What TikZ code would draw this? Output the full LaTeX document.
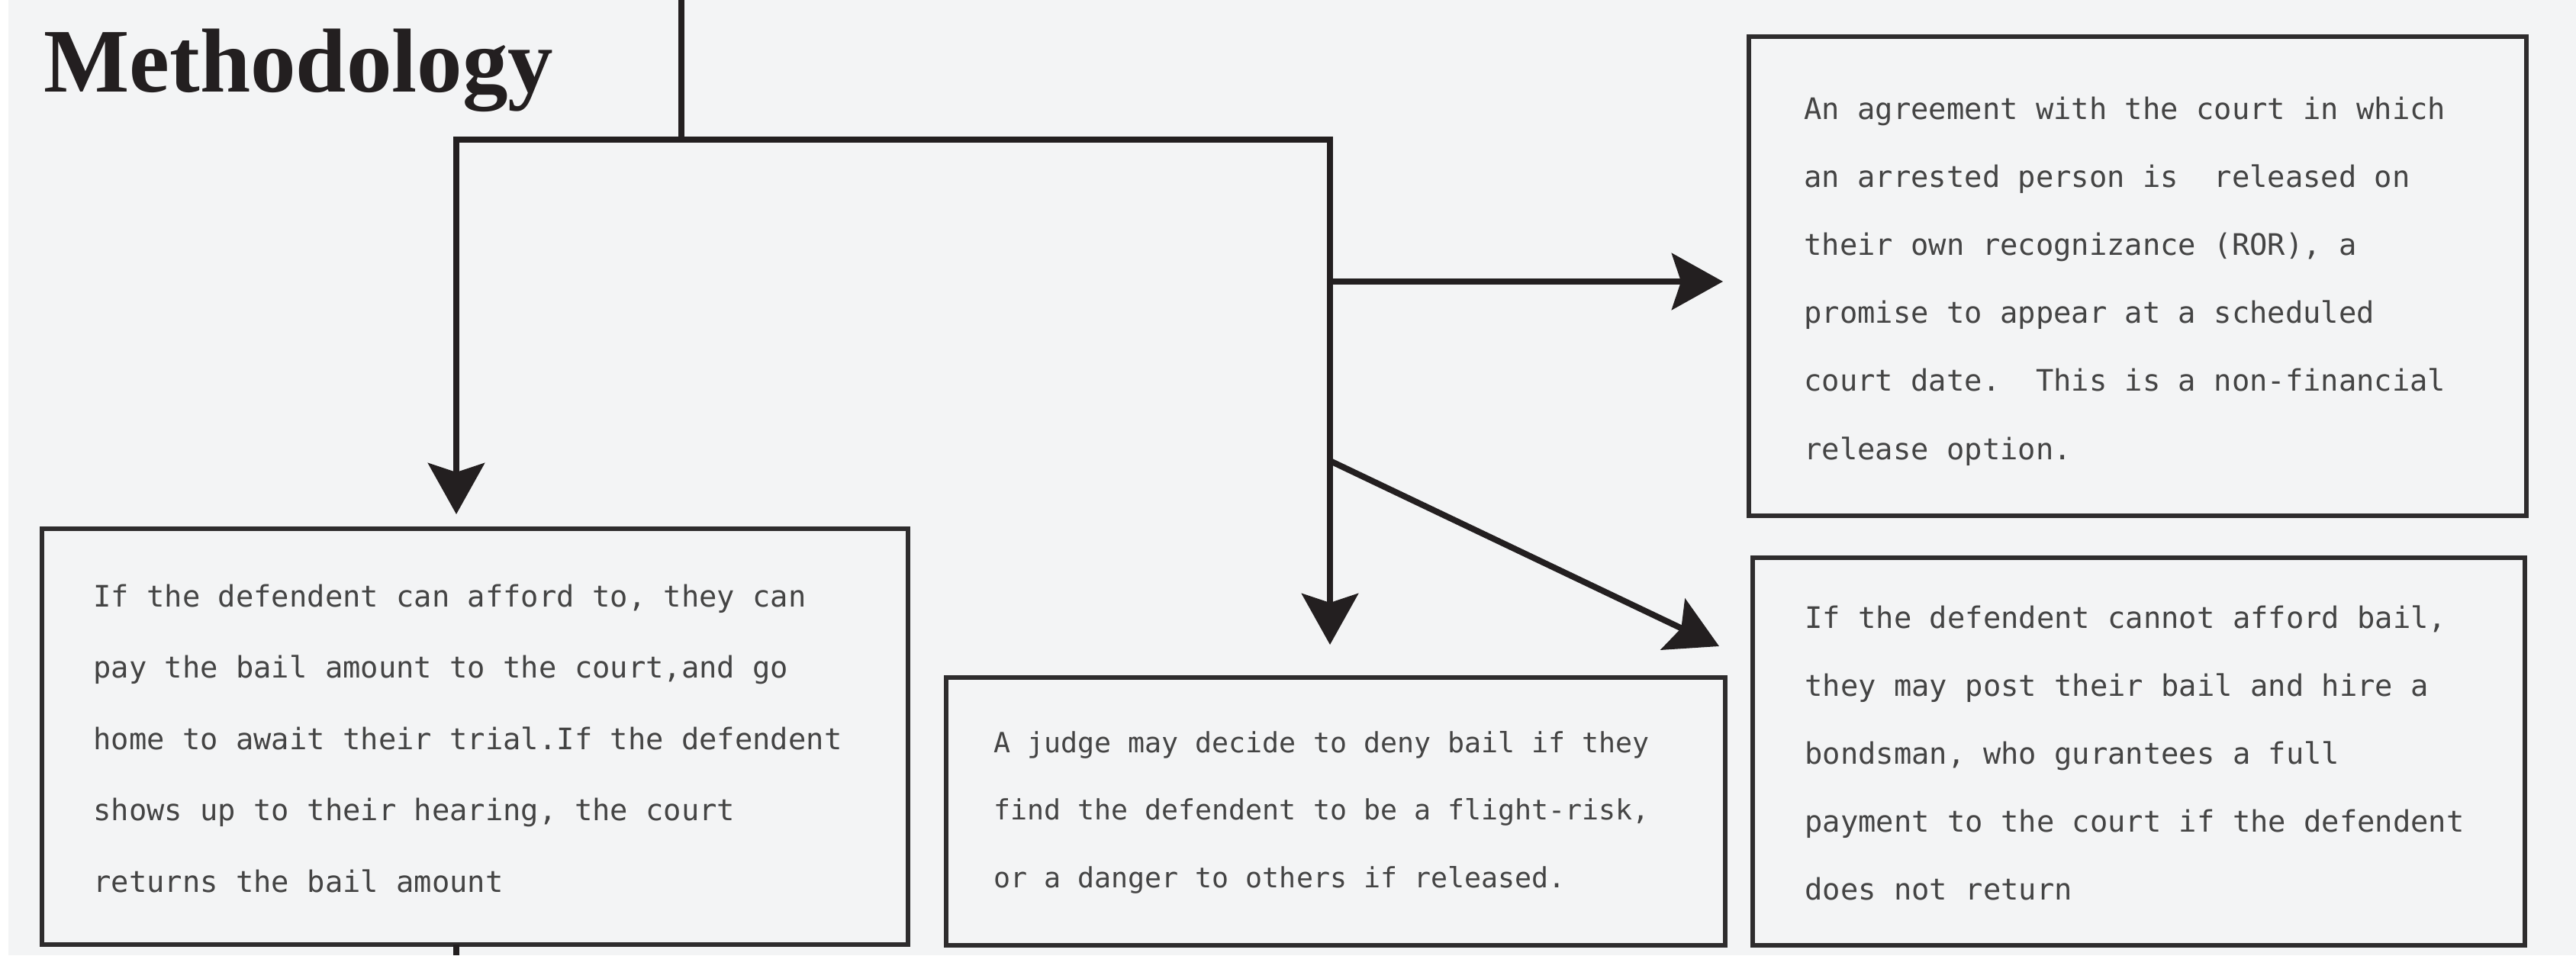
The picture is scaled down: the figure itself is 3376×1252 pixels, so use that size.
\documentclass[tikz,border=0pt]{standalone}
\usepackage{fontspec}
\setmainfont{Liberation Serif}
\newfontfamily\monofont{DejaVu Sans Mono}
\usetikzlibrary{arrows.meta}
\definecolor{bg}{HTML}{F3F4F5}
\definecolor{ink}{HTML}{231F20}
\definecolor{boxline}{HTML}{2E2C2D}
\definecolor{txtcol}{HTML}{444444}
\tikzset{
  box/.style={draw=boxline, line width=3pt, rectangle, inner sep=0pt, fill=bg},
  conn/.style={draw=ink, line width=4pt, line join=miter},
  tip/.style={-{Stealth[length=33.5pt,width=37pt,inset=6pt]}},
  monotxt/.style={anchor=base west, inner sep=0pt, text=txtcol, font=\monofont\fontsize{19.4pt}{20pt}\selectfont},
  monosmall/.style={monotxt, font=\monofont\fontsize{18.3pt}{20pt}\selectfont},
  titletxt/.style={anchor=base west, inner sep=0pt, text=ink, font=\bfseries\fontsize{59.5pt}{60pt}\selectfont}
}
\begin{document}
\begin{tikzpicture}[x=0.5pt,y=-0.5pt]
\useasboundingbox (0,0) rectangle (3376,1252);
\fill[bg] (0,0) rectangle (3376,1252);
\fill[white] (0,0) rectangle (11,1252);

% title
\node[titletxt] (title) at (57,120) {Methodology};

% boxes
\node[box, minimum width=567.5pt, minimum height=272.5pt] (bail) at (622.5,965.5) {};
\node[box, minimum width=509.5pt, minimum height=314pt] (ror) at (2801.5,362) {};
\node[box, minimum width=510.5pt, minimum height=175.5pt] (deny) at (1750.5,1063.5) {};
\node[box, minimum width=506pt, minimum height=254pt] (bond) at (2803,985) {};

% texts
\foreach \t [count=\i] in {{If the defendent can afford to, they can},{pay the bail amount to the court,and go},{home to await their trial.If the defendent},{shows up to their hearing, the court},{returns the bail amount}}
  \node[monotxt] (bailt\i) at (122,{795+(\i-1)*93.5}) {\t};

\foreach \t [count=\i] in {{An agreement with the court in which},{an arrested person is\ \ released on},{their own recognizance (ROR), a},{promise to appear at a scheduled},{court date.\ \ This is a non-financial},{release option.}}
  \node[monotxt] (rort\i) at (2364,{156+(\i-1)*89.2}) {\t};

\foreach \t [count=\i] in {{A judge may decide to deny bail if they},{find the defendent to be a flight-risk,},{or a danger to others if released.}}
  \node[monosmall] (denyt\i) at (1302,{986+(\i-1)*88.5}) {\t};

\foreach \t [count=\i] in {{If the defendent cannot afford bail,},{they may post their bail and hire a},{bondsman, who gurantees a full},{payment to the court if the defendent},{does not return}}
  \node[monotxt] (bondt\i) at (2365,{823+(\i-1)*89.2}) {\t};

% connector coordinates
\coordinate (top) at (893,0);
\coordinate (hubM) at (893,183);
\coordinate (hubL) at (598,183);
\coordinate (hubR) at (1743,183);
\coordinate (tipL) at (598,674);
\coordinate (tipM) at (1743,845);
\coordinate (br1) at (1743,369);
\coordinate (tipR) at ([xshift=-15.5pt]ror.west |- br1);
\coordinate (br2) at (1743,604);
\coordinate (tipB) at (2253,847);
\coordinate (stubT) at (598,1238);
\coordinate (bottom) at (598,1252);

% connectors
\draw[conn] (top) -- (hubM);
\draw[conn, {Stealth[length=33.5pt,width=37pt,inset=6pt]}-{Stealth[length=33.5pt,width=37pt,inset=6pt]}] (tipL) -- (hubL) -- (hubR) -- (tipM);
\draw[conn, tip] (br1) -- (tipR);
\draw[conn, tip] (br2) -- (tipB);
\draw[conn] (stubT) -- (bottom);
\end{tikzpicture}
\end{document}
